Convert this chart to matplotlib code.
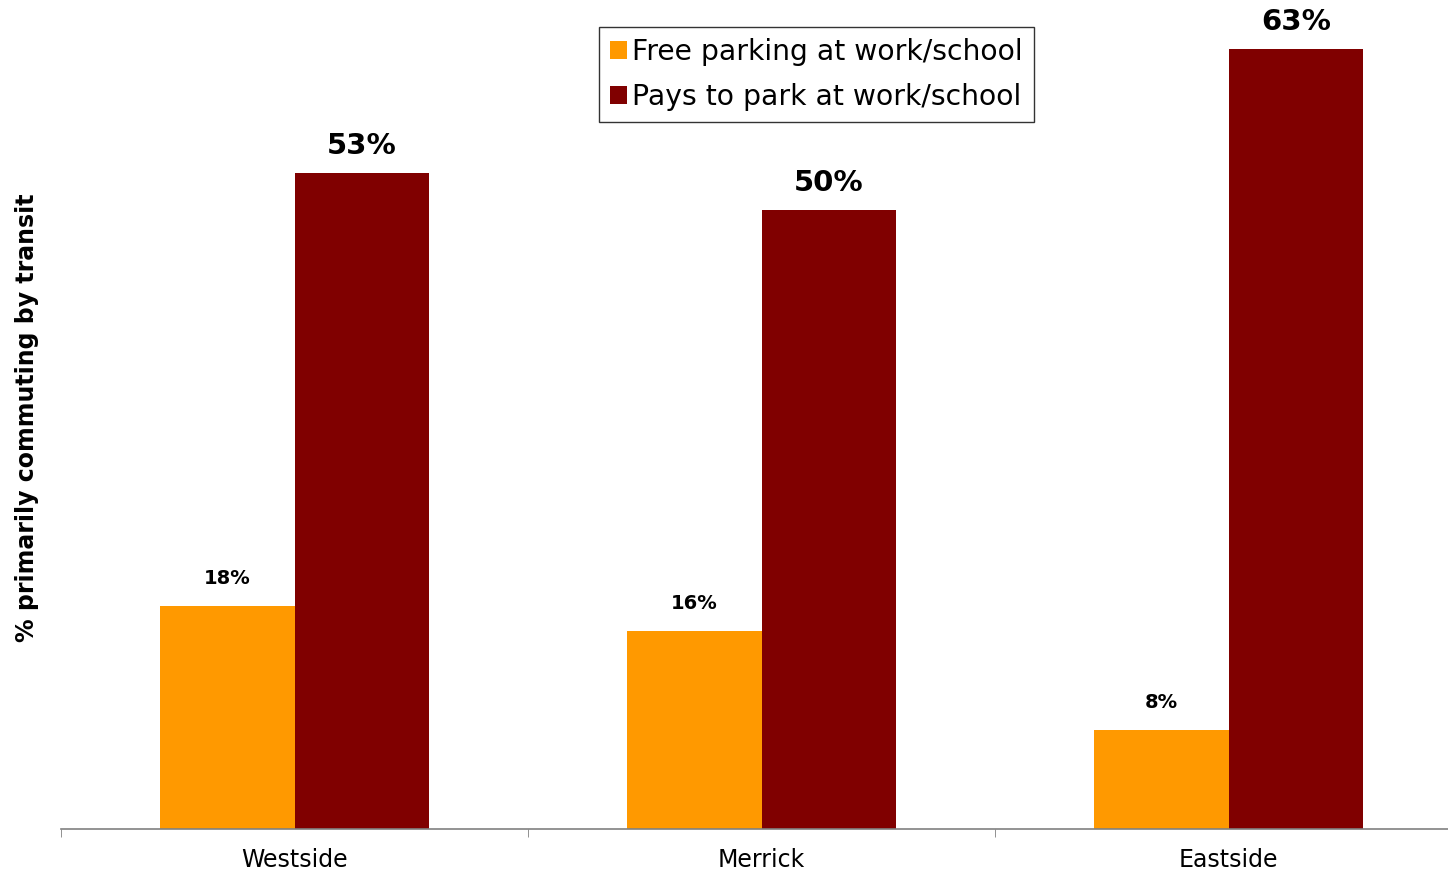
import numpy as np
import matplotlib
matplotlib.use('Agg')
import matplotlib.pyplot as plt

regions = ['Westside', 'Merrick', 'Eastside']
free_parking = [18, 16, 8]
pays_to_park = [53, 50, 63]
series_names = ['Free parking at work/school', 'Pays to park at work/school']

plt.rcParams['font.family'] = ['DejaVu Sans']

fig = plt.figure(figsize=(14.48, 8.76), dpi=100)
ax = fig.add_axes([61/1448, 47/876, 1401/1448, 829/876])

x = np.arange(len(regions))
w = 0.289
b1 = ax.bar(x - w/2, free_parking, w, color='#FF9900', label=series_names[0])
b2 = ax.bar(x + w/2, pays_to_park, w, color='#800000', label=series_names[1])

for rect, v in zip(b1, free_parking):
    ax.annotate('%d%%' % v, (rect.get_x() + rect.get_width()/2, v),
                xytext=(0, 28), textcoords='offset pixels', ha='center', va='center',
                fontsize=14, fontweight='bold')
for rect, v in zip(b2, pays_to_park):
    ax.annotate('%d%%' % v, (rect.get_x() + rect.get_width()/2, v),
                xytext=(0, 27), textcoords='offset pixels', ha='center', va='center',
                fontsize=21, fontweight='bold')

ax.set_xlim(-0.5, 2.5)
ax.set_ylim(0, 67)
ax.set_xticks(x)
ax.set_xticklabels(regions, fontsize=17)
ax.set_xticks([-0.5, 0.5, 1.5, 2.5], minor=True)
ax.tick_params(axis='x', which='major', length=0, pad=14)
ax.tick_params(axis='x', which='minor', length=6, color='#808080')
ax.set_yticks([])
for s in ['left', 'right', 'top']:
    ax.spines[s].set_visible(False)
ax.spines['bottom'].set_color('#808080')
ax.spines['bottom'].set_linewidth(1.2)

fig.text(27/1448, 1 - 418/876, '% primarily commuting by transit', rotation=90,
         ha='center', va='center', fontsize=17, fontweight='bold')

leg = ax.legend(loc='upper left', bbox_to_anchor=(599/1448, 1 - 27/876),
                bbox_transform=fig.transFigure, fontsize=20.3, frameon=True,
                fancybox=False, edgecolor='black', handlelength=0.6, handleheight=0.6,
                handletextpad=0.2, labelspacing=0.62, borderpad=0.38, borderaxespad=0)
leg.get_frame().set_linewidth(1.0)

fig.savefig('out.png', dpi=100)
